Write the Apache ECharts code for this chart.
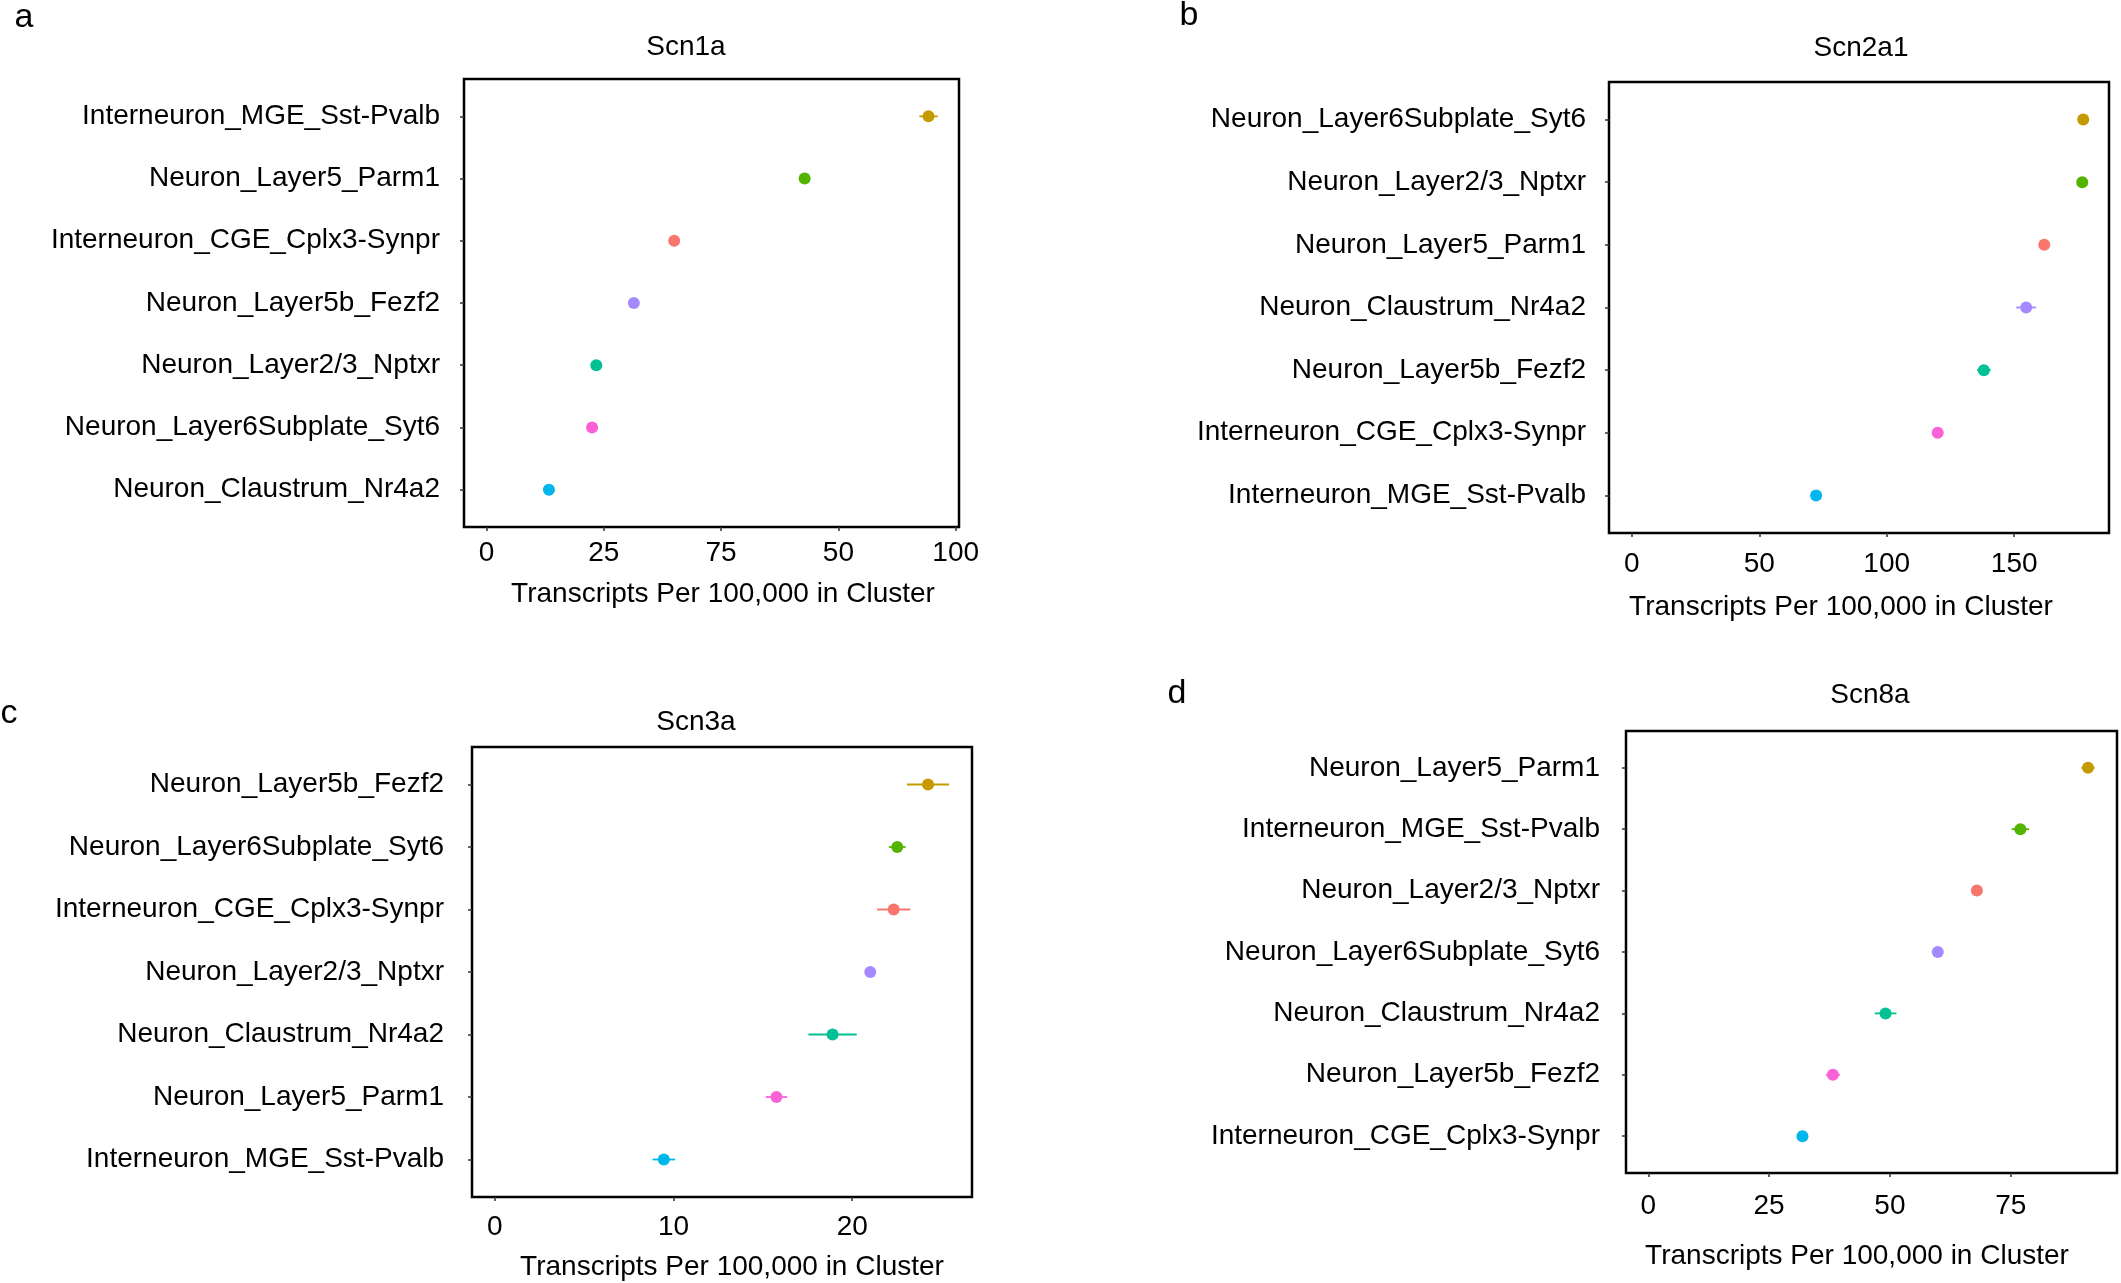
<!DOCTYPE html>
<html>
<head>
<meta charset="utf-8">
<script src="https://cdn.jsdelivr.net/npm/echarts@6/dist/echarts.min.js"></script>
<style>
  html, body { margin: 0; padding: 0; background: #fff; }
  #chart { width: 2121px; height: 1283px; }
</style>
</head>
<body>
<div id="chart"></div>
<script>
// a - Scn1a (categories listed top to bottom)
let catsA = ['Interneuron_MGE_Sst-Pvalb', 'Neuron_Layer5_Parm1', 'Interneuron_CGE_Cplx3-Synpr', 'Neuron_Layer5b_Fezf2',
    'Neuron_Layer2/3_Nptxr', 'Neuron_Layer6Subplate_Syt6', 'Neuron_Claustrum_Nr4a2']
let valsA = [94.2, 67.8, 40.0, 31.4, 23.4, 22.5, 13.3]
let errsA = [1.95, 0.6, 0.5, 0.5, 0.4, 0.4, 0.3]
let ticksA = [0, 25, 50, 75, 100]
let tickLabelsA = ['0', '25', '75', '50', '100']

// b - Scn2a1
let catsB = ['Neuron_Layer6Subplate_Syt6', 'Neuron_Layer2/3_Nptxr', 'Neuron_Layer5_Parm1', 'Neuron_Claustrum_Nr4a2',
    'Neuron_Layer5b_Fezf2', 'Interneuron_CGE_Cplx3-Synpr', 'Interneuron_MGE_Sst-Pvalb']
let valsB = [177.1, 176.7, 161.8, 154.7, 138.1, 120.0, 72.3]
let errsB = [0.8, 0.8, 1.0, 3.9, 2.7, 1.2, 1.0]
let ticksB = [0, 50, 100, 150]
let tickLabelsB = ['0', '50', '100', '150']

// c - Scn3a
let catsC = ['Neuron_Layer5b_Fezf2', 'Neuron_Layer6Subplate_Syt6', 'Interneuron_CGE_Cplx3-Synpr', 'Neuron_Layer2/3_Nptxr',
    'Neuron_Claustrum_Nr4a2', 'Neuron_Layer5_Parm1', 'Interneuron_MGE_Sst-Pvalb']
let valsC = [24.24, 22.52, 22.32, 21.01, 18.9, 15.76, 9.46]
let errsC = [1.18, 0.47, 0.93, 0.1, 1.35, 0.6, 0.63]
let ticksC = [0, 10, 20]
let tickLabelsC = ['0', '10', '20']

// d - Scn8a
let catsD = ['Neuron_Layer5_Parm1', 'Interneuron_MGE_Sst-Pvalb', 'Neuron_Layer2/3_Nptxr', 'Neuron_Layer6Subplate_Syt6',
    'Neuron_Claustrum_Nr4a2', 'Neuron_Layer5b_Fezf2', 'Interneuron_CGE_Cplx3-Synpr']
let valsD = [91.0, 77.0, 68.0, 59.9, 49.1, 38.2, 31.9]
let errsD = [1.38, 1.8, 0.6, 0.6, 2.24, 1.45, 0.6]
let ticksD = [0, 25, 50, 75]
let tickLabelsD = ['0', '25', '50', '75']

let axisTitle = 'Transcripts Per 100,000 in Cluster'
let palette = ['#C49A00', '#53B400', '#F8766D', '#A58AFF', '#00C094', '#FB61D7', '#00B6EB']
let font = 'Liberation Sans'

let panels = [
    { letter: 'a', title: 'Scn1a', cats: catsA, vals: valsA, errs: errsA, ticks: ticksA, tickLabels: tickLabelsA,
      grid: { left: 464, top: 79, width: 495, height: 448 }, xMin: -4.8, xMax: 100.7,
      yMargin: 24, xMargin: 12, nameGap: 53, namePad: [0, 0, 0, 23],
      titlePos: [686, 47], letterPos: [24, 18] },
    { letter: 'b', title: 'Scn2a1', cats: catsB, vals: valsB, errs: errsB, ticks: ticksB, tickLabels: tickLabelsB,
      grid: { left: 1609, top: 82, width: 500, height: 451 }, xMin: -8.95, xMax: 187.2,
      yMargin: 23, xMargin: 17, nameGap: 60, namePad: [0, 36, 0, 0],
      titlePos: [1861, 48], letterPos: [1189, 16] },
    { letter: 'c', title: 'Scn3a', cats: catsC, vals: valsC, errs: errsC, ticks: ticksC, tickLabels: tickLabelsC,
      grid: { left: 472, top: 747, width: 500, height: 450 }, xMin: -1.27, xMax: 26.7,
      yMargin: 28, xMargin: 16, nameGap: 56, namePad: [0, 0, 0, 20],
      titlePos: [696, 722], letterPos: [9, 714] },
    { letter: 'd', title: 'Scn8a', cats: catsD, vals: valsD, errs: errsD, ticks: ticksD, tickLabels: tickLabelsD,
      grid: { left: 1626, top: 731, width: 491, height: 442 }, xMin: -4.62, xMax: 97.0,
      yMargin: 26, xMargin: 19, nameGap: 69, namePad: [0, 29, 0, 0],
      titlePos: [1870, 695], letterPos: [1177, 694] }
]

let textStyle = { fontFamily: font, fontSize: 28, color: '#000', fontWeight: 'normal' }

let option = {
    animation: false,
    backgroundColor: '#fff',
    title: [],
    grid: [],
    xAxis: [],
    yAxis: [],
    series: []
}

panels.forEach(function (p, k) {
    option.title.push({
        text: p.title, left: p.titlePos[0], top: p.titlePos[1], padding: 0,
        textAlign: 'center', textVerticalAlign: 'middle', textStyle: textStyle
    })
    option.title.push({
        text: p.letter, left: p.letterPos[0], top: p.letterPos[1], padding: 0,
        textAlign: 'center', textVerticalAlign: 'middle',
        textStyle: { fontFamily: font, fontSize: 34, color: '#000', fontWeight: 'normal' }
    })
    option.grid.push(Object.assign({
        show: true, borderColor: '#000', borderWidth: 2.5, backgroundColor: '#fff', containLabel: false
    }, p.grid))
    option.xAxis.push({
        gridIndex: k,
        type: 'value',
        position: 'bottom',
        min: p.xMin,
        max: p.xMax,
        axisLine: { show: false, onZero: false },
        splitLine: { show: false },
        // 坐标轴刻度
        axisTick: { show: true, length: 4, customValues: p.ticks, lineStyle: { color: '#333', width: 1.5 } },
        // 刻度标签
        axisLabel: {
            customValues: p.ticks,
            margin: p.xMargin,
            fontFamily: font, fontSize: 28, color: '#000',
            formatter: function (v) { return p.tickLabels[p.ticks.indexOf(v)] }
        },
        name: axisTitle,
        nameLocation: 'middle',
        nameGap: p.nameGap,
        nameTextStyle: { fontFamily: font, fontSize: 28, color: '#000', padding: p.namePad }
    })
    let idx = p.cats.map(function (c, i) { return i })
    option.yAxis.push({
        gridIndex: k,
        type: 'value',
        position: 'left',
        inverse: true,
        min: -0.6,
        max: p.cats.length - 0.4,
        axisLine: { show: false, onZero: false },
        splitLine: { show: false },
        axisTick: { show: true, length: 4, customValues: idx, lineStyle: { color: '#333', width: 1.5 } },
        axisLabel: {
            customValues: idx,
            margin: p.yMargin,
            fontFamily: font, fontSize: 28, color: '#000',
            formatter: function (v) { return p.cats[v] }
        }
    })
    // error bars
    option.series.push({
        type: 'custom',
        xAxisIndex: k,
        yAxisIndex: k,
        encode: { x: [1, 2], y: 0 },
        data: p.vals.map(function (v, i) { return [i, v - p.errs[i], v + p.errs[i]] }),
        renderItem: function (params, api) {
            let y = api.value(0)
            let a = api.coord([api.value(1), y])
            let b = api.coord([api.value(2), y])
            return {
                type: 'line',
                shape: { x1: a[0], y1: a[1], x2: b[0], y2: b[1] },
                style: { stroke: palette[params.dataIndex], lineWidth: 1.8 }
            }
        },
        z: 2
    })
    // points
    option.series.push({
        type: 'scatter',
        xAxisIndex: k,
        yAxisIndex: k,
        symbolSize: 12,
        data: p.vals.map(function (v, i) {
            return { value: [v, i], itemStyle: { color: palette[i], opacity: 1 } }
        }),
        z: 3
    })
})

let chart = echarts.init(document.getElementById('chart'))
chart.setOption(option)
</script>
</body>
</html>
